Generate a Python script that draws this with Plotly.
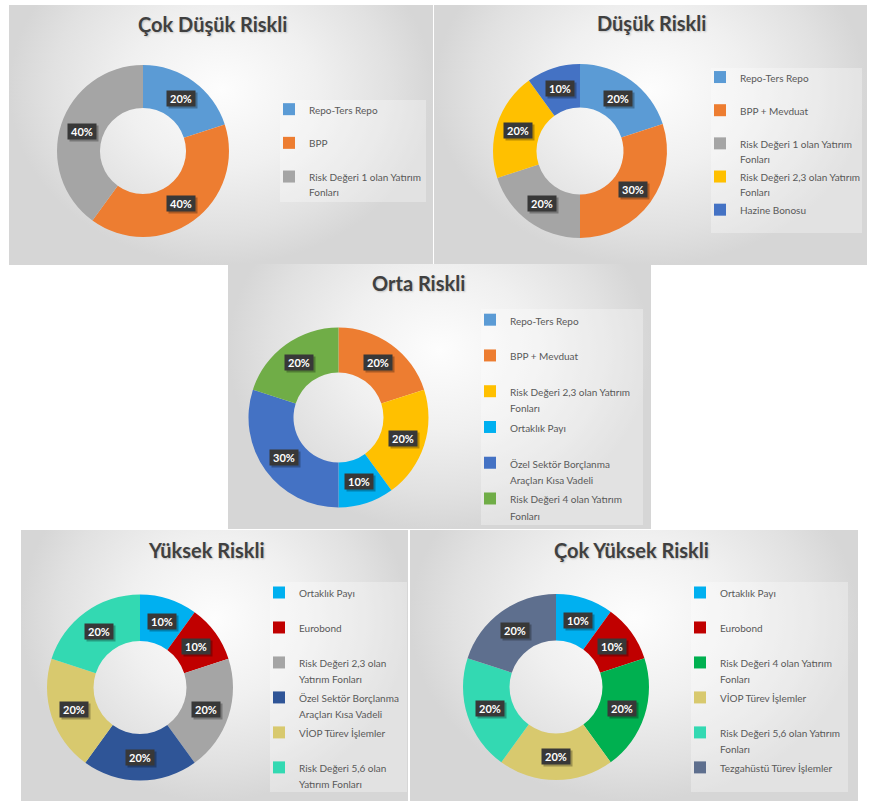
import math
import plotly.graph_objects as go

W, H = 875, 801

# ---------------- data ----------------
titles = ["Çok Düşük Riskli", "Düşük Riskli", "Orta Riskli", "Yüksek Riskli", "Çok Yüksek Riskli"]

p1_labels = ["Repo-Ters Repo", "BPP", "Risk Değeri 1 olan Yatırım<br>Fonları"]
p1_values = [20, 40, 40]

p2_labels = ["Repo-Ters Repo", "BPP + Mevduat", "Risk Değeri 1 olan Yatırım<br>Fonları",
             "Risk Değeri 2,3 olan Yatırım<br>Fonları", "Hazine Bonosu"]
p2_values = [20, 30, 20, 20, 10]

p3_labels = ["Repo-Ters Repo", "BPP + Mevduat", "Risk Değeri 2,3 olan Yatırım<br>Fonları",
             "Ortaklık Payı", "Özel Sektör Borçlanma<br>Araçları Kısa Vadeli",
             "Risk Değeri 4 olan Yatırım<br>Fonları"]
p3_values = [0, 20, 20, 10, 30, 20]

p4_labels = ["Ortaklık Payı", "Eurobond", "Risk Değeri 2,3 olan<br>Yatırım Fonları",
             "Özel Sektör Borçlanma<br>Araçları Kısa Vadeli", "VİOP Türev İşlemler",
             "Risk Değeri 5,6 olan<br>Yatırım Fonları"]
p4_values = [10, 10, 20, 20, 20, 20]

p5_labels = ["Ortaklık Payı", "Eurobond", "Risk Değeri 4 olan Yatırım<br>Fonları",
             "VİOP Türev İşlemler", "Risk Değeri 5,6 olan Yatırım<br>Fonları",
             "Tezgahüstü Türev İşlemler"]
p5_values = [10, 10, 20, 20, 20, 20]

# ---------------- styles ----------------
BLUE, ORANGE, GRAY, GOLD, DBLUE = "#5B9BD5", "#ED7D31", "#A5A5A5", "#FFC000", "#4472C4"
CYAN, RED, GREEN4, NAVY, KHAKI, TURQ, SLATE, LGREEN = (
    "#00B0F0", "#C00000", "#00B050", "#2F5597", "#D8C96E", "#33D9B2", "#5E6F8E", "#70AD47")

p1_colors = [BLUE, ORANGE, GRAY]
p2_colors = [BLUE, ORANGE, GRAY, GOLD, DBLUE]
p3_colors = [BLUE, ORANGE, GOLD, CYAN, DBLUE, LGREEN]
p4_colors = [CYAN, RED, GRAY, NAVY, KHAKI, TURQ]
p5_colors = [CYAN, RED, GREEN4, KHAKI, TURQ, SLATE]

series = [
    (p1_labels, p1_values, p1_colors),
    (p2_labels, p2_values, p2_colors),
    (p3_labels, p3_values, p3_colors),
    (p4_labels, p4_values, p4_colors),
    (p5_labels, p5_values, p5_colors),
]

# layout geometry (pixels)
PANELS = [
    dict(box=(9, 5, 433, 265), center=(143, 151), r=86, title=(212, 24),
         lbox=(293, 100, 426, 202), text_x=307, first_y=110, lsize=11.8),
    dict(box=(434, 5, 867, 265), center=(580, 151), r=87, title=(651, 23),
         lbox=(723, 68, 862, 233), text_x=738, first_y=78, lsize=11.6),
    dict(box=(228, 264, 651, 529), center=(338.5, 417.5), r=90, title=(418, 283),
         lbox=(493, 309, 643, 525), text_x=508, first_y=320, lsize=12.6),
    dict(box=(21, 530, 408, 801), center=(140, 687.5), r=93, title=(206, 550),
         lbox=(283, 582, 407, 792), text_x=297, first_y=593, lsize=12.3),
    dict(box=(410, 530, 858, 801), center=(556, 687), r=93, title=(631, 550),
         lbox=(704, 582, 848, 792), text_x=718, first_y=593, lsize=12.3),
]
HOLE = 0.5
LEG_FONT = "Lato, sans-serif"
TITLE_FONT = "Lato, Open Sans, sans-serif"

fig = go.Figure()

# panel backgrounds (radial gradient, centre raised toward the title)
for p in PANELS:
    x0, y0, x1, y1 = p["box"]
    xm = (x0 + x1) / 2
    ytop = y0 - 0.35 * (y1 - y0)
    fig.add_trace(go.Scatter(
        x=[x0, xm, xm, xm, x1, x1, x0, x0], y=[y0, y0, ytop, y0, y0, y1, y1, y0],
        mode="lines", fill="toself", line=dict(width=0),
        fillgradient=dict(type="radial",
                          colorscale=[[0, "#FDFDFD"], [0.45, "#F0F0F0"], [0.8, "#E1E1E1"],
                                      [1, "#D6D6D6"]]),
        hoverinfo="skip", showlegend=False, xaxis="x", yaxis="y"))

shapes, annotations = [], []
legends = {}


def fmt(label):
    lines = label.split("<br>")
    if len(lines) == 1:
        lines.append("\u00a0")
    return "<br>".join(f"<span style='font-size:10px'>{ln}</span>" for ln in lines)


for i, ((labels, values, colors), p) in enumerate(zip(series, PANELS)):
    cx, cy = p["center"]
    r = p["r"]
    lid = "legend" if i == 0 else f"legend{i+1}"
    fig.add_trace(go.Pie(
        labels=[fmt(l) for l in labels], values=values,
        marker=dict(colors=colors, line=dict(width=0)),
        hole=HOLE, sort=False, direction="clockwise", rotation=0,
        textinfo="none", hoverinfo="none",
        domain=dict(x=[(cx - r) / W, (cx + r) / W], y=[1 - (cy + r) / H, 1 - (cy - r) / H]),
        legend=lid, legendgroup=f"g{i}", showlegend=True))

    # data labels
    total = sum(values)
    cum = 0
    rm = r * (1 + HOLE) / 2
    for v in values:
        if v > 0:
            th = 2 * math.pi * (cum + v / 2) / total
            lx, ly = cx + rm * math.sin(th), cy - rm * math.cos(th)
            txt = f"<b>{round(100 * v / total)}%</b>"
            annotations.append(dict(x=lx, y=ly, xref="x", yref="y", text="\u00a0",
                                    showarrow=False, width=25, height=12,
                                    font=dict(family=TITLE_FONT, size=11, color="rgba(0,0,0,0)"),
                                    bgcolor="rgba(0,0,0,0.28)", borderpad=1.5,
                                    xshift=2, yshift=-2))
            annotations.append(dict(x=lx, y=ly, xref="x", yref="y", text=txt, showarrow=False,
                                    width=25, height=12,
                                    font=dict(family=TITLE_FONT, size=11, color="white"),
                                    bgcolor="#383838", borderpad=1.5))
        cum += v

    # title
    tx, ty = p["title"]
    annotations.append(dict(x=tx, y=ty, xref="x", yref="y", text=f"<b>{titles[i]}</b>",
                            showarrow=False, yanchor="middle",
                            font=dict(family=TITLE_FONT, size=20, color="#404040",
                                      shadow="1px 1px 2px rgba(0,0,0,0.2)")))

    # legend box + legend
    bx0, by0, bx1, by1 = p["lbox"]
    lx0 = p["text_x"] + 2 - 40
    shapes.append(dict(type="rect", xref="x", yref="y", x0=min(bx0, lx0 + 11), x1=bx1,
                       y0=by0, y1=by1, fillcolor="rgba(255,255,255,0.3)",
                       line=dict(width=0), layer="above"))
    legends[lid] = dict(x=lx0 / W, y=1 - (p["first_y"] - 15) / H, xanchor="left", yanchor="top",
                        bgcolor="rgba(0,0,0,0)", borderwidth=0, valign="top",
                        font=dict(family=LEG_FONT, size=p["lsize"], color="#595959"),
                        itemclick=False, itemdoubleclick=False, traceorder="normal")

fig.update_layout(
    width=W, height=H, margin=dict(l=0, r=0, t=0, b=0, autoexpand=False),
    paper_bgcolor="white", plot_bgcolor="rgba(0,0,0,0)",
    xaxis=dict(range=[0, W], visible=False, fixedrange=True, domain=[0, 1]),
    yaxis=dict(range=[H, 0], visible=False, fixedrange=True, domain=[0, 1]),
    shapes=shapes, annotations=annotations, showlegend=True,
    **legends,
)

fig.write_html("out.html", config={"displayModeBar": False},
               post_script="document.body.style.margin='0';document.body.style.overflow='hidden';")
